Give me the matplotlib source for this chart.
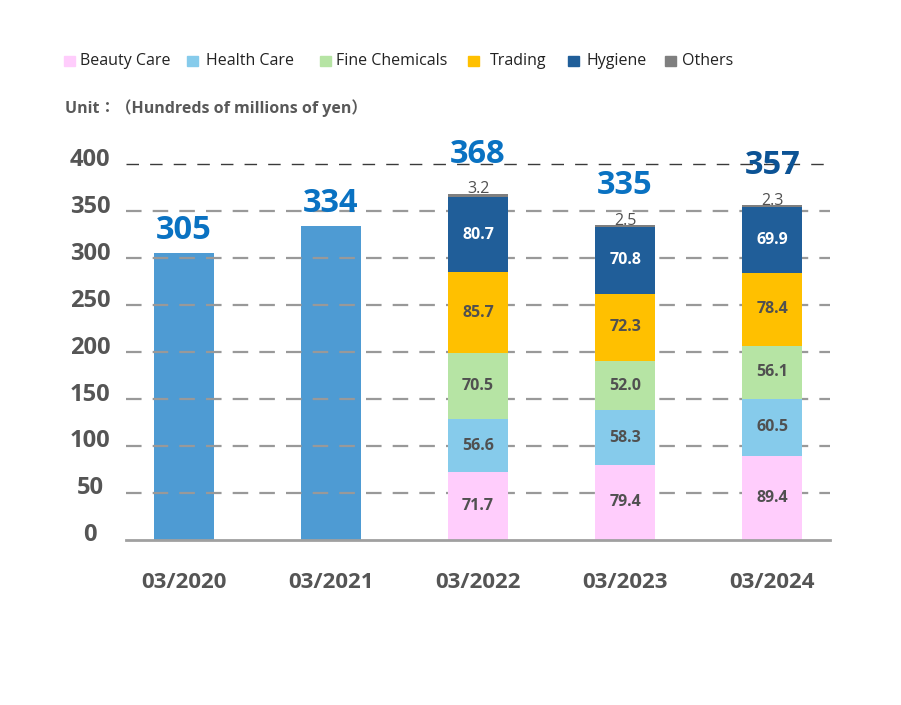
import matplotlib
matplotlib.use("Agg")
import matplotlib.pyplot as plt
from matplotlib.patches import Rectangle
from matplotlib.transforms import blended_transform_factory
import numpy as np

plt.rcParams['font.family'] = ['Open Sans', 'Noto Sans CJK JP', 'DejaVu Sans']

# ---- data ----
years = ["03/2020", "03/2021", "03/2022", "03/2023", "03/2024"]
totals = [305, 334, 368, 335, 357]
segments = ["Beauty Care", "Health Care", "Fine Chemicals", "Trading", "Hygiene", "Others"]
beauty = [None, None, 71.7, 79.4, 89.4]
health = [None, None, 56.6, 58.3, 60.5]
fine = [None, None, 70.5, 52.0, 56.1]
trading = [None, None, 85.7, 72.3, 78.4]
hygiene = [None, None, 80.7, 70.8, 69.9]
others = [None, None, 3.2, 2.5, 2.3]
yticks = [0, 50, 100, 150, 200, 250, 300, 350, 400]

seg_colors = ["#ffcdfc", "#86cbeb", "#b6e4a4", "#ffc000", "#205e99", "#7f7f7f"]
seg_text = ["#505050", "#505050", "#505050", "#505050", "white", "#505050"]
single_color = "#4e9bd3"
total_colors = ["#0a72c2", "#0a72c2", "#0a72c2", "#0a72c2", "#0c5395"]
gray = "#555555"

W, H = 901, 705
fig = plt.figure(figsize=(W / 100, H / 100), dpi=100)
ax = fig.add_axes([126 / W, 1 - 539.5 / H, (830 - 126) / W, (539.5 - 164) / H])
ax.set_xlim(-0.393, 4.393)
ax.set_ylim(0, 400)
for s in ax.spines.values():
    s.set_visible(False)
ax.set_xticks([])
ax.set_yticks([])

x = np.arange(len(years))
bw = 0.41

# single-colour bars (grid lines are drawn over these)
single_idx = [i for i in x if beauty[i] is None]
ax.bar([x[i] for i in single_idx], [totals[i] for i in single_idx], width=bw,
       color=single_color, zorder=1)

# grid
for v in yticks[1:]:
    if v == 400:
        ax.axhline(v, color="#3a3a3a", lw=1.0, ls=(0, (9, 8)), zorder=2, clip_on=False)
    else:
        ax.axhline(v, color="#999999", lw=1.6, ls=(0, (7, 5)), zorder=2)

# stacked bars
stack_idx = [i for i in x if beauty[i] is not None]
series = [beauty, health, fine, trading, hygiene, others]
bottoms = np.zeros(len(stack_idx))
for k, ser in enumerate(series):
    vals = np.array([ser[i] for i in stack_idx])
    ax.bar(stack_idx, vals, bottom=bottoms, width=bw, color=seg_colors[k], zorder=3)
    for j, i in enumerate(stack_idx):
        if k < 5:
            ax.text(i, bottoms[j] + vals[j] / 2, f"{vals[j]:.1f}", ha="center", va="center",
                    fontsize=11.5, fontweight="bold", color=seg_text[k], zorder=5)
        else:
            ax.annotate(f"{vals[j]:.1f}", (i, bottoms[j] + vals[j]), xytext=(0, 3),
                        textcoords="offset points", ha="center", va="center",
                        fontsize=11.5, color="#505050", zorder=5)
    bottoms = bottoms + vals

# totals
for i, t in enumerate(totals):
    top = t if beauty[i] is None else sum(s[i] for s in series)
    off = 16 if beauty[i] is None else 28
    ax.annotate(str(t), (i, top), xytext=(0, off), textcoords="offset points",
                ha="center", va="center", fontsize=23.5, fontweight="bold",
                color=total_colors[i], zorder=6, annotation_clip=False)

# baseline
ax.axhline(0, color="#a0a0a0", lw=2, zorder=7, clip_on=False)

# y tick labels
tr = blended_transform_factory(ax.transAxes, ax.transData)
for v in yticks:
    ax.annotate(str(v), (0, v), xycoords=tr, xytext=(-26, 3), textcoords="offset points",
                ha="center", va="center", fontsize=17, fontweight="bold", color=gray,
                annotation_clip=False)

# x tick labels
trx = blended_transform_factory(ax.transData, ax.transAxes)
for i, lab in enumerate(years):
    ax.annotate(lab, (i, 0), xycoords=trx, xytext=(0, -31), textcoords="offset points",
                ha="center", va="center", fontsize=16, fontweight="bold", color=gray,
                annotation_clip=False)

# legend
sq_x = [64, 187, 320, 468, 568, 665]
tx_x = [80, 206, 336, 490, 586, 682]
for k, name in enumerate(segments):
    fig.add_artist(Rectangle((sq_x[k] / W, 1 - 66 / H), 10.5 / W, 10.5 / H,
                             transform=fig.transFigure, color=seg_colors[k]))
    fig.text(tx_x[k] / W, 1 - 61 / H, name, ha="left", va="center", fontsize=11.5,
             color="#222222")

fig.text(65 / W, 1 - 108 / H, "Unit：（Hundreds of millions of yen）", ha="left", va="center",
         fontsize=11.5, fontweight="bold", color="#595959")

fig.savefig("out.png", dpi=100, facecolor="white")
